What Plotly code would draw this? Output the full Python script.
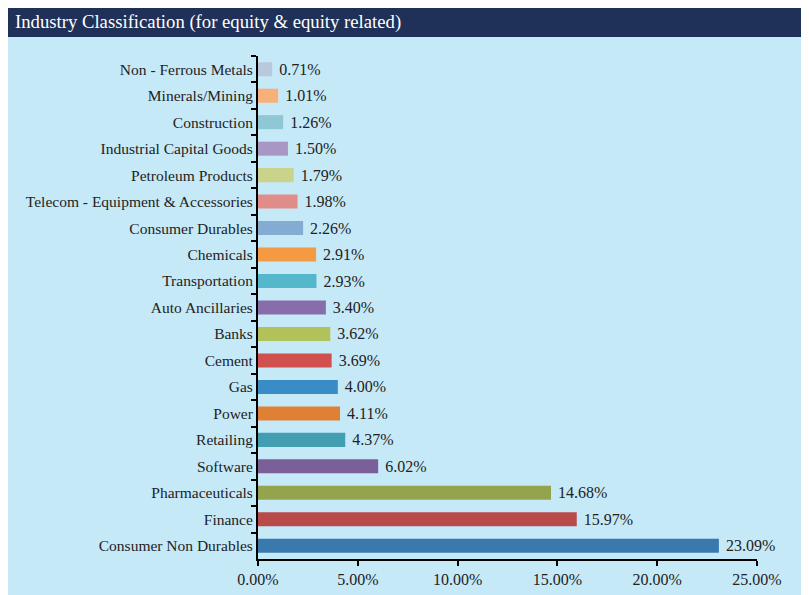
import plotly.graph_objects as go

# sectors, top to bottom as shown in the chart
industries = ['Non - Ferrous Metals', 'Minerals/Mining', 'Construction', 'Industrial Capital Goods',
              'Petroleum Products', 'Telecom - Equipment & Accessories', 'Consumer Durables', 'Chemicals',
              'Transportation', 'Auto Ancillaries', 'Banks', 'Cement', 'Gas', 'Power', 'Retailing',
              'Software', 'Pharmaceuticals', 'Finance', 'Consumer Non Durables']
weights = [0.71, 1.01, 1.26, 1.50, 1.79, 1.98, 2.26, 2.91, 2.93, 3.40, 3.62, 3.69, 4.00, 4.11, 4.37,
           6.02, 14.68, 15.97, 23.09]
bar_colors = ['#b9c9dd', '#f8b07a', '#8ec8d4', '#a897c4', '#c9d38c', '#e08d8a', '#84acd3', '#f39a43',
              '#55b7cb', '#876daa', '#b1c25a', '#d05050', '#3a8cc7', '#df8035', '#429fb1',
              '#7b5f99', '#94a44c', '#b84a4a', '#3a79ad']
x_ticks = [0, 5, 10, 15, 20, 25]

# page body has an 8px margin, so the figure starts at (8, 8)
OFF = 8
W, H = 809 - OFF, 595 - OFF
L, R, T, B = 258 - OFF, 52, 56 - OFF, 36
pw, ph = W - L - R, H - T - B

def px_x(px):
    return (px - OFF - L) / pw

def px_y(py):
    return (H - B - (py - OFF)) / ph

font = 'Liberation Serif'

fig = go.Figure(go.Bar(
    x=weights, y=industries, orientation='h',
    marker_color=bar_colors, marker_line_width=0,
    text=['\u00a0%.2f%%' % v for v in weights], textposition='outside',
    textfont=dict(family=font, size=16, color='#222'),
    constraintext='none', cliponaxis=False,
))

fig.update_layout(
    width=W, height=H,
    margin=dict(l=L, r=R, t=T, b=B, autoexpand=False),
    paper_bgcolor='white', plot_bgcolor='rgba(0,0,0,0)',
    bargap=0.47, showlegend=False,
    shapes=[
        # light blue panel
        dict(type='rect', xref='paper', yref='paper', layer='below',
             x0=px_x(8), x1=px_x(802), y0=px_y(600), y1=px_y(37),
             fillcolor='#c6e9f8', line_width=0),
        # navy title bar
        dict(type='rect', xref='paper', yref='paper', layer='below',
             x0=px_x(8), x1=px_x(802), y0=px_y(37), y1=px_y(4),
             fillcolor='#1f3158', line_width=0),
    ],
    annotations=[dict(
        text='Industry Classification (for equity & equity related)',
        xref='paper', yref='paper', x=px_x(13), y=px_y(22),
        xanchor='left', yanchor='middle', showarrow=False,
        font=dict(family=font, size=18.7, color='white'))],
)

fig.update_xaxes(range=[0, 25], tickvals=x_ticks, ticktext=['%.2f%%' % v for v in x_ticks],
                 automargin=False,
                 showgrid=False, zeroline=False, showline=True, linecolor='black', linewidth=2,
                 ticks='outside', ticklen=5, tickwidth=2, tickcolor='black',
                 tickfont=dict(family=font, size=16, color='#222'))
fig.update_yaxes(autorange='reversed', automargin=False,
                 showgrid=False, showline=True, linecolor='black', linewidth=2,
                 ticks='outside', ticklen=5, tickwidth=2, tickcolor='black', tickson='boundaries',
                 tickfont=dict(family=font, size=15.5, color='#222'), ticklabelstandoff=0)

fig.write_html("out.html")
